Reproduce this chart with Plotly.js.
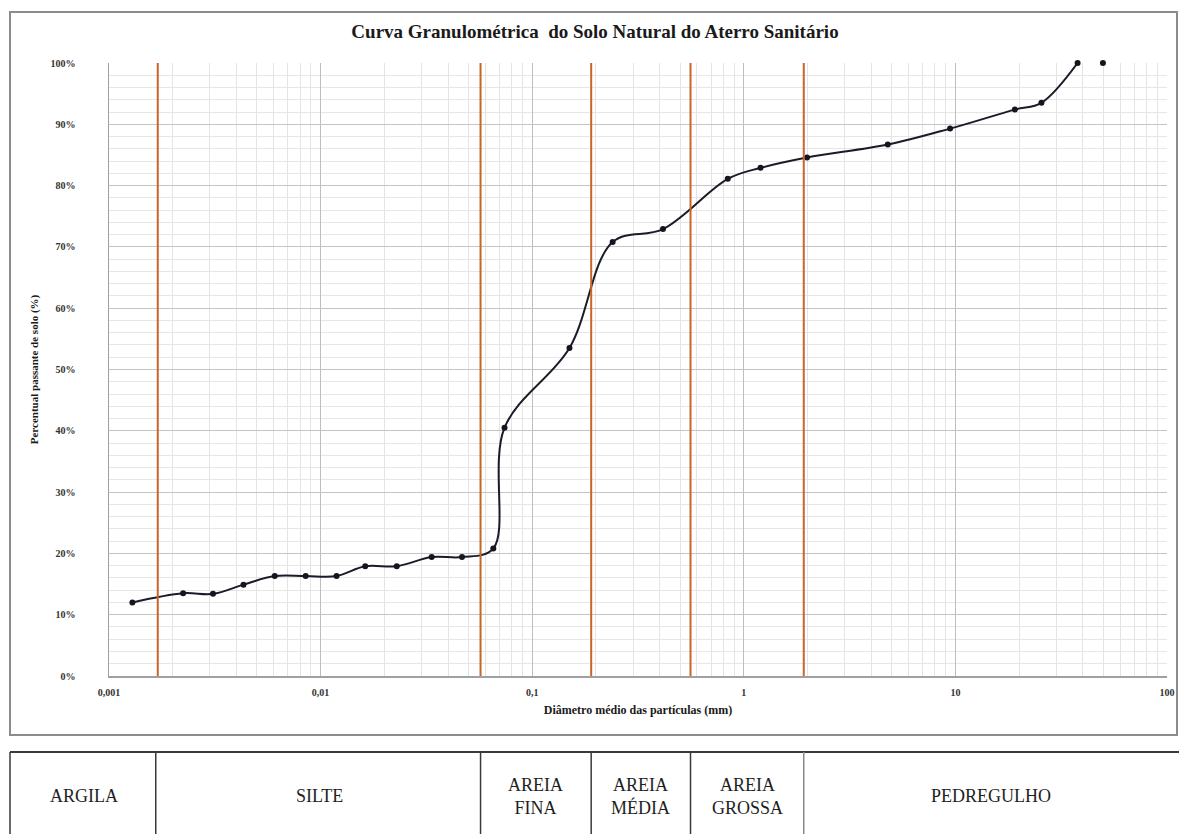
<!DOCTYPE html>
<html>
<head>
<meta charset="utf-8">
<script src="https://cdn.plot.ly/plotly-3.0.1.min.js"></script>
<style>
html,body{margin:0;padding:0;background:#ffffff;}
#chart{width:1179px;height:834px;}
</style>
</head>
<body>
<div id="chart"></div>
<script>
// ---- data ----
const diameters = [0.00129, 0.00224, 0.0031, 0.00432, 0.00607, 0.0085, 0.0119, 0.01625, 0.0229, 0.0335, 0.0466, 0.0655, 0.074, 0.15, 0.24, 0.415, 0.84, 1.2, 1.99, 4.79, 9.44, 19.1, 25.5, 37.8];
const passing   = [12.0, 13.5, 13.4, 14.9, 16.3, 16.3, 16.3, 17.9, 17.9, 19.4, 19.4, 20.8, 40.5, 53.5, 70.8, 72.9, 81.1, 82.9, 84.6, 86.7, 89.3, 92.4, 93.5, 100];
const lastDiameter = [49.8];
const lastPassing  = [100];
const boundaries = [0.0017, 0.057, 0.19, 0.56, 1.92];
const classes = ["ARGILA", "SILTE", "AREIA<br>FINA", "AREIA<br>MÉDIA", "AREIA<br>GROSSA", "PEDREGULHO"];
const xTickVals = [0.001, 0.01, 0.1, 1, 10, 100];
const xTickText = ["0,001", "0,01", "0,1", "1", "10", "100"];
const yTickVals = [0, 10, 20, 30, 40, 50, 60, 70, 80, 90, 100];
const yTickText = ["0%", "10%", "20%", "30%", "40%", "50%", "60%", "70%", "80%", "90%", "100%"];
const titleText = "Curva Granulométrica&nbsp; do Solo Natural do Aterro Sanitário";
const xTitle = "Diâmetro médio das partículas (mm)";
const yTitle = "Percentual passante de solo (%)";

// ---- page geometry (pixels) ----
const W = 1179, H = 834;
const L = 109, R = 1167, T = 63, B = 676;
const px2pX = px => (px - L) / (R - L);
const px2pY = py => (B - py) / (B - T);
const v2pX = v => (Math.log10(v) + 3) / 5;

const serif = "Liberation Serif, Times New Roman, serif";
const orange = "#c8652a";

const shapes = [];
// outer chart frame
shapes.push({type: "rect", xref: "paper", yref: "paper",
  x0: px2pX(10), x1: px2pX(1177), y0: px2pY(735), y1: px2pY(12),
  line: {color: "#8c8c8c", width: 2}, layer: "below"});
// orange class boundaries
boundaries.forEach(b => shapes.push({type: "line", xref: "x", yref: "paper",
  x0: b, x1: b, y0: 0, y1: 1, line: {color: orange, width: 2}}));
// table below the chart
const tTop = px2pY(752), tBot = px2pY(845);
shapes.push({type: "line", xref: "paper", yref: "paper", x0: px2pX(10), x1: px2pX(1185), y0: tTop, y1: tTop, line: {color: "#3a3a3a", width: 2}});
shapes.push({type: "line", xref: "paper", yref: "paper", x0: px2pX(10), x1: px2pX(10), y0: tTop, y1: tBot, line: {color: "#3a3a3a", width: 1.5}});
boundaries.forEach((b, i) => shapes.push({type: "line", xref: "paper", yref: "paper",
  x0: v2pX(b) - (i === 0 ? 0.0019 : 0), x1: v2pX(b) - (i === 0 ? 0.0019 : 0), y0: tTop, y1: tBot,
  line: {color: i === 4 ? "#8a8a8a" : "#3a3a3a", width: 1.5}}));

// table labels
const edgesP = [px2pX(10)].concat(boundaries.map(v2pX)).concat([px2pX(1179)]);
const annotations = classes.map((c, i) => ({
  xref: "paper", yref: "paper",
  x: (edgesP[i] + edgesP[i + 1]) / 2, y: px2pY(796),
  text: c, showarrow: false, xanchor: "center", yanchor: "middle",
  font: {family: serif, size: 18, color: "#1e1e1e"}
}));

const traces = [
  {x: diameters, y: passing, type: "scatter", mode: "lines+markers", cliponaxis: false,
   line: {color: "#1b1b2a", width: 2, shape: "spline", smoothing: 1},
   marker: {color: "#15151f", size: 6, symbol: "circle"}, hoverinfo: "x+y"},
  {x: lastDiameter, y: lastPassing, type: "scatter", mode: "markers", cliponaxis: false,
   marker: {color: "#15151f", size: 6, symbol: "circle"}, hoverinfo: "x+y"}
];

const layout = {
  width: W, height: H,
  margin: {l: L, r: W - R, t: T, b: H - B, pad: 0},
  paper_bgcolor: "#ffffff", plot_bgcolor: "#ffffff",
  showlegend: false,
  title: {text: titleText, x: px2pX(595), xref: "paper", xanchor: "center",
          y: 1 - 31 / H, yref: "container", yanchor: "middle",
          font: {family: serif, size: 19, weight: "bold", color: "#1a1a1a"}},
  xaxis: {type: "log", range: [-3, 2], tickmode: "array", tickvals: xTickVals, ticktext: xTickText,
          showgrid: true, gridcolor: "#bdbdbd", gridwidth: 1,
          minor: {tickmode: "linear", dtick: "D1", showgrid: true, gridcolor: "#e4e4e4", gridwidth: 1, ticks: ""},
          showline: true, linecolor: "#a0a0a0", linewidth: 1.5, zeroline: false,
          ticks: "", ticklabelstandoff: 6,
          tickfont: {family: serif, size: 10, weight: "bold", color: "#333333"},
          title: {text: xTitle, standoff: 9, font: {family: serif, size: 12, weight: "bold", color: "#1a1a1a"}}},
  yaxis: {range: [0, 100], tickmode: "array", tickvals: yTickVals, ticktext: yTickText,
          showgrid: true, gridcolor: "#c4c4c4", gridwidth: 1,
          minor: {dtick: 2, showgrid: true, gridcolor: "#e6e6e6", gridwidth: 1, ticks: ""},
          showline: true, linecolor: "#a0a0a0", linewidth: 1.5, zeroline: false,
          ticks: "", ticklabelstandoff: 30,
          tickfont: {family: serif, size: 10, weight: "bold", color: "#333333"},
          title: {text: yTitle, standoff: 9, font: {family: serif, size: 11, weight: "bold", color: "#1a1a1a"}}},
  shapes: shapes,
  annotations: annotations
};

Plotly.newPlot("chart", traces, layout, {displayModeBar: false, staticPlot: true});
</script>
</body>
</html>
